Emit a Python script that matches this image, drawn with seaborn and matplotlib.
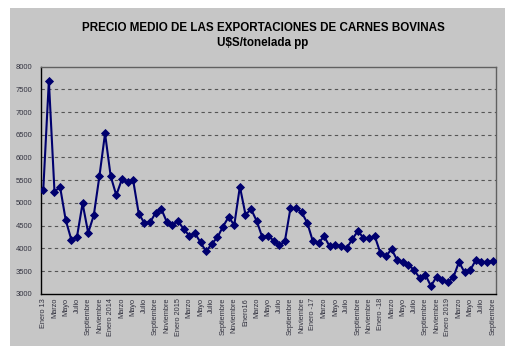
import numpy as np
import pandas as pd
import seaborn as sns
import matplotlib.pyplot as plt
from matplotlib.patches import Rectangle

# monthly average price, Jan 2013 - Sep 2019 (US$/ton)
precio = [5280, 7690, 5250, 5350, 4620, 4190, 4250, 4990, 4340, 4730, 5590, 6530,
          5590, 5170, 5520, 5450, 5500, 4760, 4560, 4570, 4780, 4870, 4580, 4520,
          4600, 4420, 4280, 4330, 4130, 3930, 4100, 4240, 4480, 4690, 4510, 5360,
          4740, 4860, 4600, 4240, 4280, 4170, 4070, 4150, 4880, 4890, 4790, 4560,
          4150, 4120, 4260, 4040, 4070, 4050, 4000, 4200, 4380, 4230, 4220, 4270,
          3900, 3830, 3980, 3740, 3690, 3640, 3520, 3350, 3420, 3170, 3370, 3300,
          3250, 3360, 3700, 3470, 3520, 3740, 3700, 3700, 3720]

# labels every second month
etiquetas = ["Enero 13", "Marzo", "Mayo", "Julio", "Septiembre", "Noviembre",
             "Enero 2014", "Marzo", "Mayo", "Julio", "Septiembre", "Noviembre",
             "Enero 2015", "Marzo", "Mayo", "Julio", "Septiembre", "Noviembre",
             "Enero16", "Marzo", "Mayo", "Julio", "Septiembre", "Noviembre",
             "Enero -17", "Marzo", "Mayo", "Julio", "Septiembre", "Noviembre",
             "Enero -18", "Marzo", "Mayo", "Julio", "Septiembre", "Noviembre",
             "Enero 2019", "Marzo", "Mayo", "Julio", "Septiembre"]

y_ticks = [3000, 3500, 4000, 4500, 5000, 5500, 6000, 6500, 7000, 7500, 8000]

df = pd.DataFrame({"mes": np.arange(len(precio)), "precio": precio})

gris = "#c6c6c6"
sns.set_style("white", {"axes.facecolor": gris})
plt.rcParams["font.family"] = ["Liberation Sans", "DejaVu Sans"]

fig = plt.figure(figsize=(5.12, 3.56), dpi=100, facecolor="white")
# gray chart area like the spreadsheet frame
fig.patches.append(Rectangle((10 / 512, 1 - 346 / 356), 495 / 512, 338 / 356,
                             transform=fig.transFigure, facecolor=gris,
                             edgecolor="none", zorder=-5))
ax = fig.add_axes([41 / 512, 1 - 293.7 / 356, 454.5 / 512, 227 / 356])
ax.set_zorder(2)
ax.set_facecolor(gris)

sns.lineplot(data=df, x="mes", y="precio", ax=ax, color="#00006e", linewidth=1.5,
             marker="D", markersize=3.8, markeredgewidth=0.6,
             markeredgecolor="#00006e", zorder=3)

ax.set_ylim(3000, 8000)
ax.set_yticks(y_ticks)
ax.set_xlim(-0.4, len(precio) - 0.5)
ax.set_xticks(np.arange(0, len(precio), 2))
ax.set_xticklabels(etiquetas, rotation=90, fontsize=5.3, color="#333340")
ax.set_xticks(np.arange(len(precio)), minor=True)
ax.tick_params(axis="y", labelsize=5.5, labelcolor="#333340", length=0, pad=6)
ax.tick_params(axis="x", which="both", direction="in", length=1.5, width=0.8,
               color="black", pad=3)
ax.set_xlabel("")
ax.set_ylabel("")

for v in y_ticks[1:-1]:
    ax.axhline(v, color="#555555", linewidth=0.8, linestyle=(0, (3, 3)), zorder=1)

for s in ["left", "bottom"]:
    ax.spines[s].set_color("black")
    ax.spines[s].set_linewidth(1.0)
for s in ["top", "right"]:
    ax.spines[s].set_color("#606060")
    ax.spines[s].set_linewidth(1.0)

fig.text(263 / 512, 1 - 28 / 356, "PRECIO MEDIO DE LAS EXPORTACIONES DE CARNES BOVINAS",
         ha="center", va="center", fontsize=8.4, fontweight="bold", color="black")
fig.text(263 / 512, 1 - 43 / 356, "U$S/tonelada pp",
         ha="center", va="center", fontsize=8.4, fontweight="bold", color="black")

fig.savefig("out.png", dpi=100, facecolor="white")
